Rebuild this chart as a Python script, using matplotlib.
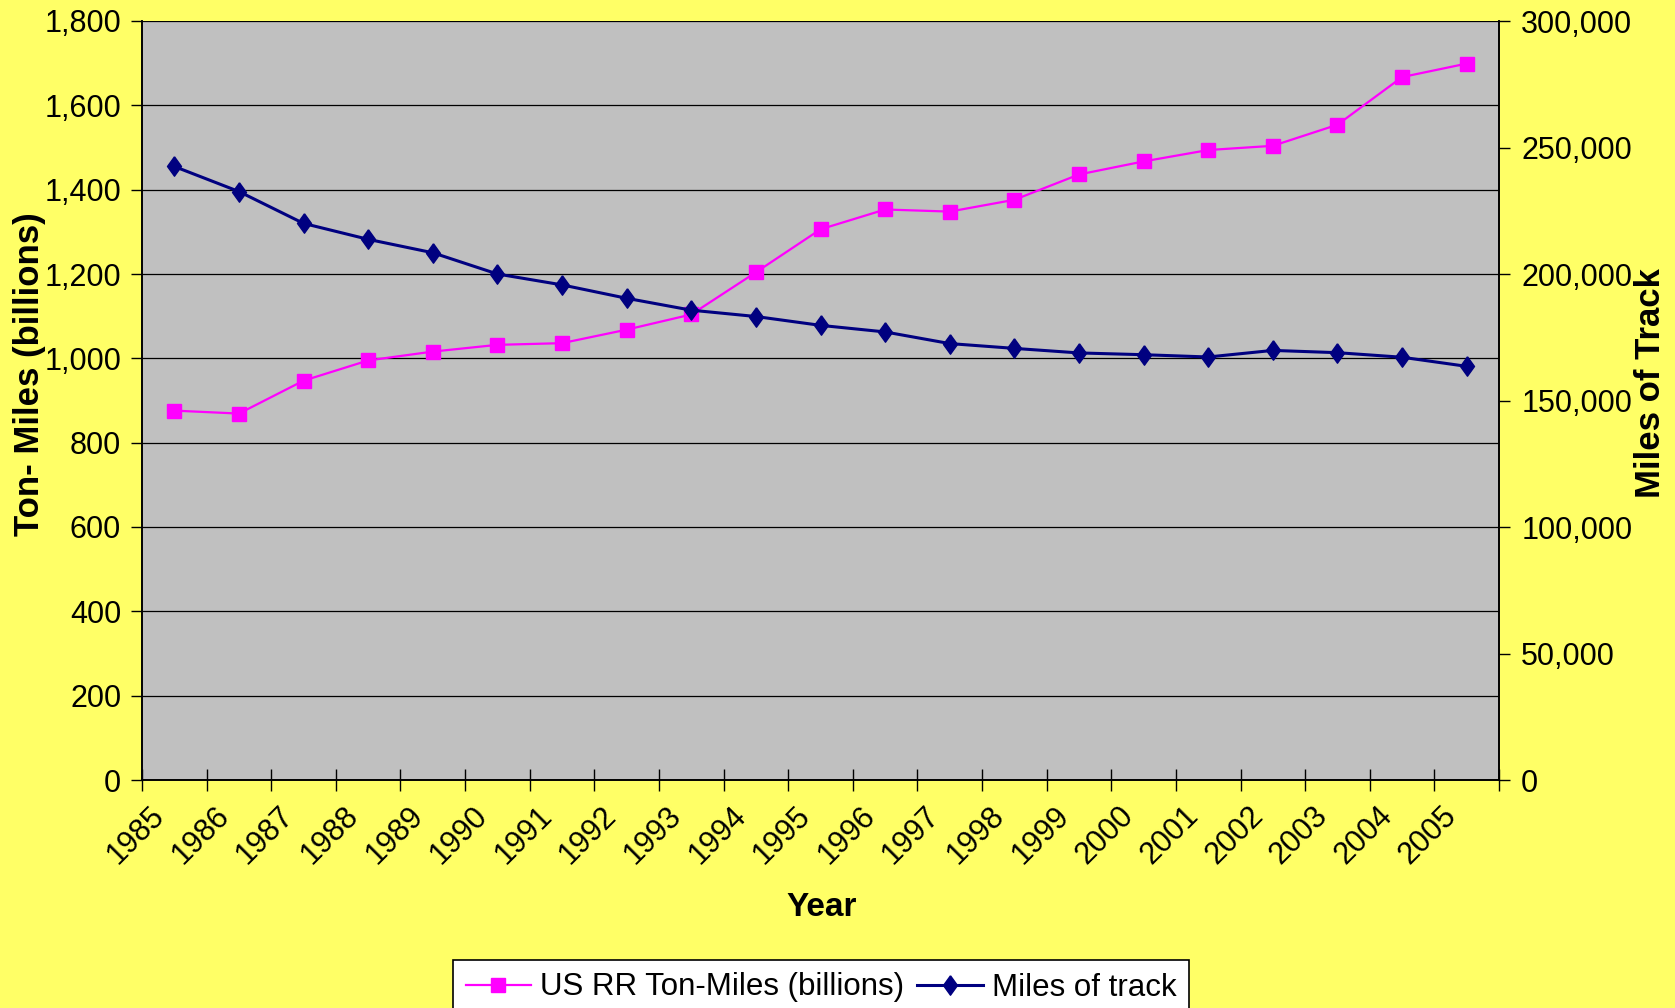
import numpy as np
import matplotlib
matplotlib.use("Agg")
import matplotlib.pyplot as plt
import matplotlib.transforms as mtransforms
from matplotlib.ticker import FuncFormatter, FixedLocator, NullFormatter
from matplotlib.lines import Line2D

plt.rcParams['font.family'] = ['Liberation Sans', 'DejaVu Sans']

years = [str(y) for y in range(1985, 2006)]
ton_miles = [876, 869, 947, 995, 1016, 1032, 1036, 1068, 1104, 1204, 1306,
             1353, 1348, 1376, 1436, 1467, 1494, 1504, 1554, 1667, 1699]
track_miles = [242500, 232600, 220000, 213700, 208400, 200000, 195700, 190400,
               185700, 183200, 179700, 177100, 172500, 170600, 168800, 168100,
               167200, 169800, 168900, 167100, 163500]
series_labels = ["US RR Ton-Miles (billions)", "Miles of track"]

BG = '#FFFF66'
PLOT_BG = '#C0C0C0'
PINK = '#FF00FF'
NAVY = '#000080'
FS = 22

fig = plt.figure(figsize=(16.75, 10.08), dpi=100, facecolor=BG)
ax = fig.add_axes([142/1675, 1 - 780/1008, (1499-142)/1675, (780-21)/1008])
ax.set_facecolor(PLOT_BG)
ax2 = ax.twinx()

n = len(years)
x = np.arange(n) + 0.5

diamond = [(0, 1), (0.72, 0), (0, -1), (-0.72, 0), (0, 1)]

l1, = ax.plot(x, ton_miles, color=PINK, lw=1.6, marker='s', ms=10.5,
              markeredgecolor=PINK, zorder=4)
l2, = ax2.plot(x, track_miles, color=NAVY, lw=2.2, marker=diamond, ms=14,
               markeredgecolor=NAVY, zorder=4)

ax.set_xlim(0, n)
ax.set_ylim(0, 1800)
ax2.set_ylim(0, 300000)

ax.set_yticks(np.arange(0, 1801, 200))
ax2.set_yticks(np.arange(0, 300001, 50000))
fmt = FuncFormatter(lambda v, p: f"{v:,.0f}")
ax.yaxis.set_major_formatter(fmt)
ax2.yaxis.set_major_formatter(fmt)

ax.grid(axis='y', color='black', lw=0.9, zorder=1)
ax.set_axisbelow(True)

# x ticks: marks between categories, labels at category centres
ax.xaxis.set_major_locator(FixedLocator(np.arange(0, n + 1)))
ax.xaxis.set_major_formatter(NullFormatter())
ax.xaxis.set_minor_locator(FixedLocator(x))
ax.set_xticklabels(years, minor=True, rotation=45, ha='right', va='top',
                   rotation_mode='anchor', fontsize=FS)
ax.tick_params(axis='x', which='major', direction='inout', length=16, width=1, color='black')
ax.tick_params(axis='x', which='minor', length=0, pad=15)
offset = mtransforms.ScaledTranslation(-0.25, 0, fig.dpi_scale_trans)
for lab in ax.xaxis.get_minorticklabels():
    lab.set_transform(lab.get_transform() + offset)

ax.tick_params(axis='y', which='major', direction='out', length=8, width=1,
               labelsize=FS, pad=7)
ax2.tick_params(axis='y', which='major', direction='out', length=8, width=1,
                labelsize=FS, pad=8)

for a in (ax, ax2):
    a.spines['top'].set_visible(False)
    for s in ('left', 'right', 'bottom'):
        a.spines[s].set_color('black')
        a.spines[s].set_linewidth(1.2)

fig.text(30/1675, 1 - 374/1008, "Ton- Miles (billions)", rotation=90,
         ha='center', va='center', fontsize=25, fontweight='bold')
fig.text(1650/1675, 1 - 383/1008, "Miles of Track", rotation=90,
         ha='center', va='center', fontsize=25, fontweight='bold')
fig.text(822/1675, 1 - 907/1008, "Year", ha='center', va='center',
         fontsize=24, fontweight='bold')

h1 = Line2D([], [], color=PINK, lw=1.6, marker='s', ms=10.5)
h2 = Line2D([], [], color=NAVY, lw=2.2, marker=diamond, ms=14)
leg = fig.legend([h1, h2], series_labels, loc='upper left',
                 bbox_to_anchor=(453/1675, 1 - 960/1008), ncol=2,
                 fontsize=22.5, frameon=True, fancybox=False, edgecolor='black',
                 facecolor='white', framealpha=1, borderpad=0.4,
                 handlelength=2.1, handletextpad=0.3, columnspacing=0.4,
                 borderaxespad=0)
leg.get_frame().set_linewidth(1.2)

fig.savefig("out.png", dpi=100, facecolor=BG)
